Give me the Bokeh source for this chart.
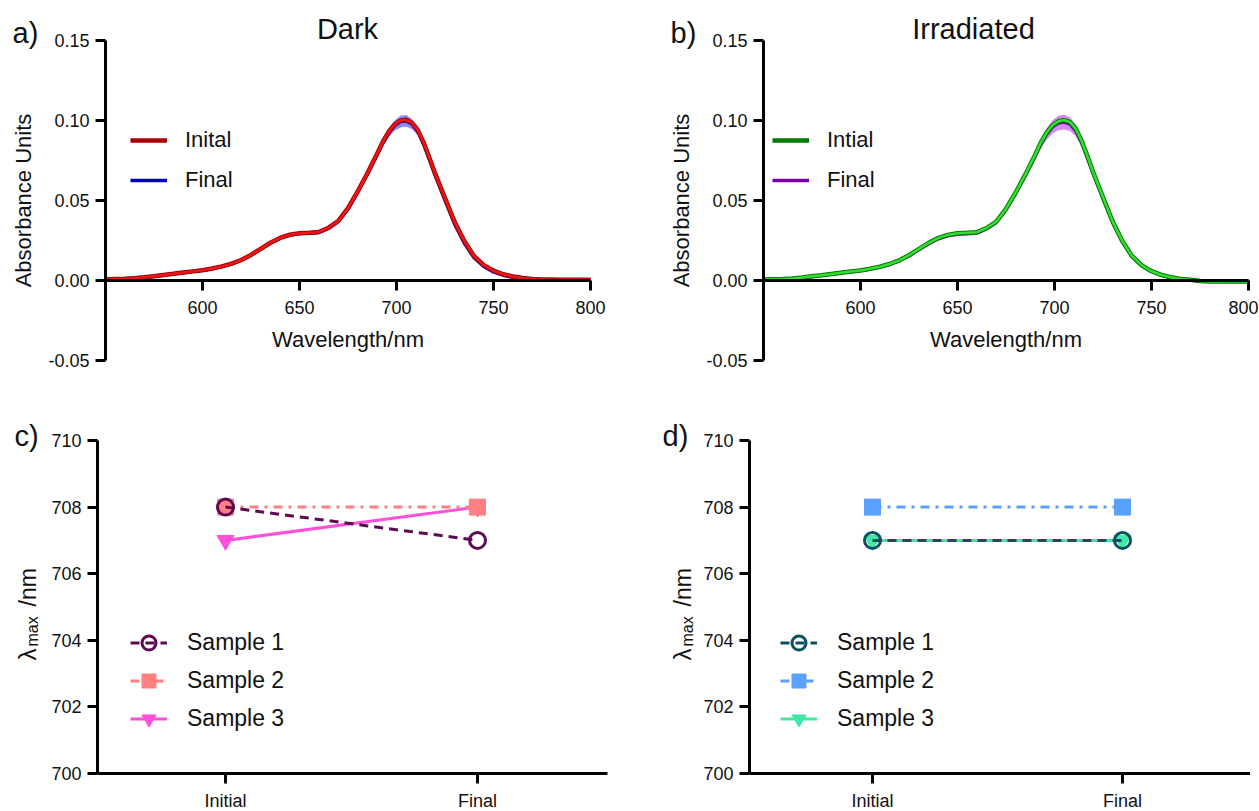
import math
from bokeh.plotting import figure
from bokeh.layouts import column, row
from bokeh.models import (Range1d, FixedTicker, NumeralTickFormatter, Legend, LegendItem, Label)
from bokeh.embed import file_html
from bokeh.resources import INLINE

FONT = "Liberation Sans"
TXT = "#111111"

# ---------------- data ----------------
wavelength = [550, 555, 560, 565, 570, 575, 580, 585, 590, 595,
              600, 605, 610, 615, 620, 625, 630, 635, 640, 645,
              650, 655, 660, 665, 670, 675, 680, 685,
              690, 693, 696, 699, 702, 705, 708, 711, 714, 717, 720,
              725, 730, 735, 740, 745, 750, 755, 760, 765, 770, 775, 780, 785, 790, 795, 800]

dark_initial = [0.0007, 0.0009, 0.0011, 0.0014, 0.0020, 0.0027, 0.0035, 0.0042, 0.0050, 0.0057,
                0.0064, 0.0075, 0.0088, 0.0105, 0.0128, 0.0160, 0.0198, 0.0236, 0.0266, 0.0286,
                0.0296, 0.0299, 0.0303, 0.0330, 0.0372, 0.0452, 0.0557, 0.0670,
                0.0792, 0.0868, 0.0930, 0.0975, 0.1000, 0.1004, 0.0985, 0.0940, 0.0862, 0.0766, 0.0666,
                0.0515, 0.0365, 0.0245, 0.0152, 0.0096, 0.0061, 0.0039, 0.0025, 0.0016, 0.0010, 0.0007,
                0.0006, 0.0005, 0.0005, 0.0004, 0.0004]
dark_final = [0.0008, 0.0010, 0.0011, 0.0015, 0.0020, 0.0027, 0.0034, 0.0042, 0.0049, 0.0057,
              0.0064, 0.0074, 0.0087, 0.0104, 0.0127, 0.0159, 0.0197, 0.0235, 0.0265, 0.0285,
              0.0294, 0.0297, 0.0300, 0.0327, 0.0368, 0.0448, 0.0552, 0.0664,
              0.0786, 0.0861, 0.0922, 0.0968, 0.0993, 0.0998, 0.0978, 0.0932, 0.0852, 0.0756, 0.0655,
              0.0502, 0.0352, 0.0233, 0.0142, 0.0088, 0.0054, 0.0033, 0.0020, 0.0012, 0.0008, 0.0006,
              0.0005, 0.0005, 0.0004, 0.0004, 0.0004]
dark_final_sd = [0.0008, 0.0008, 0.0008, 0.0008, 0.0008, 0.0008, 0.0008, 0.0008, 0.0008, 0.0008,
                 0.0008, 0.0008, 0.0008, 0.0008, 0.0008, 0.0009, 0.0009, 0.0009, 0.0009, 0.0009,
                 0.0009, 0.0009, 0.0009, 0.0009, 0.0010, 0.0010, 0.0011, 0.0013,
                 0.0018, 0.0022, 0.0027, 0.0032, 0.0036, 0.0036, 0.0032, 0.0026, 0.0020, 0.0015, 0.0012,
                 0.0010, 0.0009, 0.0009, 0.0009, 0.0008, 0.0008, 0.0008, 0.0008, 0.0008, 0.0008, 0.0008,
                 0.0008, 0.0008, 0.0008, 0.0008, 0.0008]

irr_initial = [0.0006, 0.0008, 0.0010, 0.0013, 0.0019, 0.0026, 0.0033, 0.0041, 0.0049, 0.0056,
               0.0063, 0.0073, 0.0086, 0.0103, 0.0126, 0.0158, 0.0196, 0.0234, 0.0265, 0.0285,
               0.0295, 0.0298, 0.0302, 0.0328, 0.0368, 0.0447, 0.0550, 0.0663,
               0.0785, 0.0862, 0.0925, 0.0970, 0.0995, 0.1003, 0.0990, 0.0948, 0.0872, 0.0776, 0.0675,
               0.0520, 0.0368, 0.0246, 0.0152, 0.0095, 0.0058, 0.0035, 0.0020, 0.0010, 0.0004, -0.0003,
               -0.0006, -0.0004, -0.0007, -0.0005, -0.0006]
irr_final = [0.0006, 0.0008, 0.0010, 0.0013, 0.0018, 0.0025, 0.0032, 0.0040, 0.0048, 0.0055,
             0.0062, 0.0072, 0.0085, 0.0101, 0.0124, 0.0155, 0.0193, 0.0230, 0.0261, 0.0281,
             0.0291, 0.0294, 0.0298, 0.0324, 0.0364, 0.0443, 0.0546, 0.0658,
             0.0779, 0.0854, 0.0915, 0.0960, 0.0984, 0.0990, 0.0977, 0.0936, 0.0862, 0.0766, 0.0668,
             0.0514, 0.0363, 0.0242, 0.0149, 0.0093, 0.0057, 0.0034, 0.0019, 0.0009, 0.0003, -0.0003,
             -0.0005, -0.0005, -0.0007, -0.0006, -0.0006]
irr_final_sd = [0.0009, 0.0009, 0.0009, 0.0009, 0.0009, 0.0009, 0.0009, 0.0009, 0.0009, 0.0009,
                0.0009, 0.0009, 0.0009, 0.0010, 0.0010, 0.0011, 0.0012, 0.0013, 0.0013, 0.0014,
                0.0014, 0.0014, 0.0014, 0.0014, 0.0015, 0.0016, 0.0018, 0.0022,
                0.0027, 0.0031, 0.0036, 0.0041, 0.0045, 0.0046, 0.0043, 0.0036, 0.0028, 0.0022, 0.0018,
                0.0014, 0.0012, 0.0011, 0.0010, 0.0009, 0.0009, 0.0009, 0.0009, 0.0009, 0.0009, 0.0009,
                0.0009, 0.0009, 0.0009, 0.0009, 0.0009]

wl_ticks = [600, 650, 700, 750, 800]
abs_ticks = [-0.05, 0.0, 0.05, 0.10, 0.15]

stages = ["Initial", "Final"]
dark_sample1 = [708, 707]
dark_sample2 = [708, 708]
dark_sample3 = [707, 708]
irr_sample1 = [707, 707]
irr_sample2 = [708, 708]
irr_sample3 = [707, 707]
sample_names = ["Sample 1", "Sample 2", "Sample 3"]
lmax_ticks = [700, 702, 704, 706, 708, 710]


def style_axes(p):
    for ax in list(p.xaxis) + list(p.yaxis):
        ax.axis_line_width = 3
        ax.axis_line_color = "black"
        ax.major_tick_line_width = 3
        ax.major_tick_line_color = "black"
        ax.major_tick_out = 10
        ax.major_tick_in = 0
        ax.minor_tick_line_color = None
        ax.major_label_text_font = FONT
        ax.major_label_text_font_size = "18px"
        ax.major_label_text_color = TXT
        ax.axis_label_text_font = FONT
        ax.axis_label_text_font_size = "22px"
        ax.axis_label_text_font_style = "normal"
        ax.axis_label_text_color = TXT
    p.xgrid.visible = False
    p.ygrid.visible = False
    p.outline_line_color = None


def add_text(p, x, y, text, size, align="left", baseline="middle", angle=0.0):
    p.add_layout(Label(x=x, y=y, x_units="screen", y_units="screen", text=text,
                       text_font=FONT, text_font_size=size, text_color=TXT,
                       text_align=align, text_baseline=baseline, angle=angle))


def base_fig(W, H, xr, yr):
    return figure(width=W, height=H, x_range=xr, y_range=yr,
                  output_backend="svg", toolbar_location=None,
                  min_border=0, min_border_left=0, min_border_right=0,
                  min_border_top=0, min_border_bottom=0,
                  background_fill_color="white", border_fill_color="white")


def spectrum_fig(W, ax_left, ax_right, title, letter, letter_x, title_x,
                 init_y, init_main, init_core, fin_y, fin_sd, fin_line, fin_band,
                 init_label, legend_x):
    H = 420
    ppx = (ax_right - ax_left) / (800 - 550)
    ppy = (360 - 40) / (0.15 - (-0.05))
    xr = Range1d(550 - ax_left / ppx, 800 + (W - ax_right) / ppx)
    yr = Range1d(-0.05 - (H - 360) / ppy, 0.15 + 40 / ppy)
    p = base_fig(W, H, xr, yr)
    lower = [m - s for m, s in zip(fin_y, fin_sd)]
    upper = [m + s for m, s in zip(fin_y, fin_sd)]
    p.varea(x=wavelength, y1=lower, y2=upper, fill_color=fin_band, fill_alpha=0.85)
    r_fin = p.line(wavelength, fin_y, line_color=fin_line, line_width=3.5)
    r_init = p.line(wavelength, init_y, line_color=init_main, line_width=4.5)
    p.line(wavelength, init_y, line_color=init_core, line_width=2.5)

    p.xaxis.fixed_location = 0
    p.xaxis.bounds = (550, 800)
    p.xaxis.ticker = FixedTicker(ticks=wl_ticks)
    p.xaxis.axis_label = "Wavelength/nm"
    p.yaxis.fixed_location = 550
    p.yaxis.bounds = (-0.05, 0.15)
    p.yaxis.ticker = FixedTicker(ticks=abs_ticks)
    p.yaxis.formatter = NumeralTickFormatter(format="0.00")
    p.yaxis.axis_label = "Absorbance Units"
    style_axes(p)
    p.xaxis.major_label_standoff = 10
    p.xaxis.axis_label_standoff = 10
    p.yaxis.major_label_standoff = 6
    p.yaxis.axis_label_standoff = 9

    legend = Legend(items=[LegendItem(label=init_label, renderers=[r_init]),
                           LegendItem(label="Final", renderers=[r_fin])],
                    location=(legend_x, H - 193), border_line_color=None, background_fill_alpha=0,
                    padding=0, margin=0, spacing=14, glyph_height=20, glyph_width=37,
                    label_height=20, label_standoff=18, label_text_font=FONT,
                    label_text_font_size="22px", label_text_color=TXT)
    p.add_layout(legend)
    add_text(p, letter_x, H - 32, letter, "29px")
    add_text(p, title_x, H - 28, title, "29px", align="center")
    return p


def lmax_fig(W, x_init, x_final, ax_left, ax_right, s1, s2, s3, colors, letter, letter_x,
             lab_x, legend_x):
    H = 389
    ppx = (x_final - x_init) / 1.0
    ppy = (353 - 20) / (710 - 700)
    xr = Range1d(-x_init / ppx, 1 + (W - x_final) / ppx)
    yr = Range1d(700 - (H - 353) / ppy, 710 + 20 / ppy)
    p = base_fig(W, H, xr, yr)
    pos = list(range(len(stages)))
    c1, c2, c3 = colors
    l3 = p.line(pos, s3, line_color=c3, line_width=3)
    m3 = p.scatter(pos, s3, marker="inverted_triangle", size=17, fill_color=c3, line_color=c3)
    l2 = p.line(pos, s2, line_color=c2, line_width=3, line_dash="9 6 3 6")
    m2 = p.scatter(pos, s2, marker="square", size=16, fill_color=c2, line_color=c2)
    l1 = p.line(pos, s1, line_color=c1, line_width=3, line_dash="9 6")
    m1 = p.scatter(pos, s1, marker="circle", size=16, fill_alpha=0, line_color=c1, line_width=3)

    left_loc = (ax_left - x_init) / ppx
    right_loc = (ax_right - x_init) / ppx
    p.xaxis.fixed_location = 700
    p.xaxis.bounds = (left_loc, right_loc)
    p.xaxis.ticker = FixedTicker(ticks=pos)
    p.xaxis.major_label_overrides = {i: s for i, s in zip(pos, stages)}
    p.yaxis.fixed_location = left_loc
    p.yaxis.bounds = (700, 710)
    p.yaxis.ticker = FixedTicker(ticks=lmax_ticks)
    style_axes(p)
    p.xaxis.major_label_standoff = 7
    p.yaxis.major_label_standoff = 6

    legend = Legend(items=[LegendItem(label=sample_names[0], renderers=[l1, m1]),
                           LegendItem(label=sample_names[1], renderers=[l2, m2]),
                           LegendItem(label=sample_names[2], renderers=[l3, m3])],
                    location=(legend_x, 73), border_line_color=None, background_fill_alpha=0,
                    padding=0, margin=0, spacing=3, glyph_height=35, glyph_width=37,
                    label_height=20, label_standoff=20, label_text_font=FONT,
                    label_text_font_size="23px", label_text_color=TXT)
    p.add_layout(legend)
    add_text(p, letter_x, H - 15, letter, "29px")
    # y axis label: lambda_max /nm
    add_text(p, lab_x, 149, "λ", "24px", baseline="alphabetic", angle=math.pi / 2)
    add_text(p, lab_x + 5, 163, "max", "16px", baseline="alphabetic", angle=math.pi / 2)
    add_text(p, lab_x, 203, "/nm", "23px", baseline="alphabetic", angle=math.pi / 2)
    return p


pa = spectrum_fig(629, 105, 590, "Dark", "a)", 12, 347,
                  dark_initial, "#a80000", "#e81818", dark_final, dark_final_sd, "#0000c0", "#7777ff",
                  "Inital", 130)
pb = spectrum_fig(629, 134, 619, "Irradiated", "b)", 41, 344,
                  irr_initial, "#007a00", "#33dd33", irr_final, irr_final_sd, "#7a00a8", "#cc77ee",
                  "Intial", 143)
pc = lmax_fig(621, 225, 477, 97, 607, dark_sample1, dark_sample2, dark_sample3,
              ("#5e0a52", "#ff8080", "#ff4fd8"), "c)", 14, 27, 130)
pd = lmax_fig(629, 251, 501, 128, 629, irr_sample1, irr_sample2, irr_sample3,
              ("#0a5060", "#5aa0ff", "#40e8a8"), "d)", 41, 61, 159)

layout = column(row(pa, pb), row(pc, pd))
open("out.html", "w").write(file_html(layout, INLINE))
